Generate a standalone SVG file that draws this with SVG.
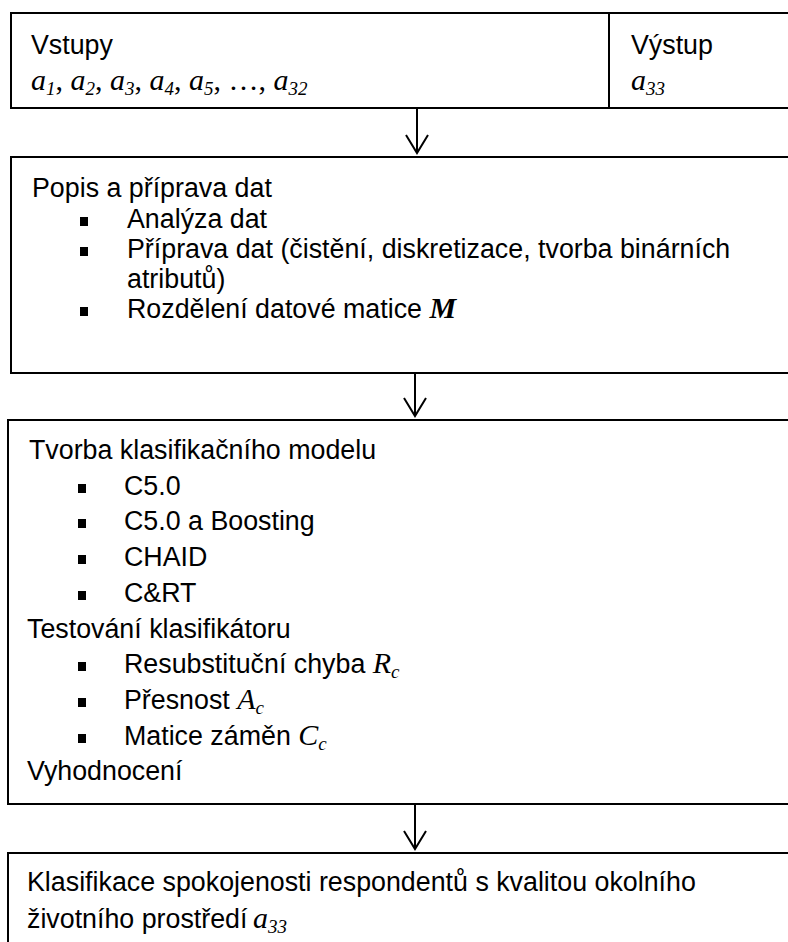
<svg xmlns="http://www.w3.org/2000/svg" width="788" height="942" viewBox="0 0 788 942">
<defs>
<style>
.box{fill:none;stroke:#000;stroke-width:2}
.t{font-family:"Liberation Sans",Arial,sans-serif;font-size:26.8px;fill:#000}
.m{font-family:"Liberation Serif","Times New Roman",serif;font-style:italic;font-size:30px;fill:#000}
.r{font-style:normal}
.b{font-weight:bold}
.sub{font-size:19px}
.bul{fill:#000}
.conn line,.conn polyline{stroke:#000;stroke-width:2;fill:none}
</style>
</defs>
<rect width="788" height="942" fill="#fff"/>

<g id="inputs-outputs">
<rect class="box" x="11" y="13" width="800" height="95"/>
<line class="box" x1="609" y1="13" x2="609" y2="108"/>
<text class="t" x="31" y="54">Vstupy</text>
<text class="m" x="31" y="90">a<tspan class="sub" dy="5">1</tspan><tspan class="r" dy="-5">, </tspan>a<tspan class="sub" dy="5">2</tspan><tspan class="r" dy="-5">, </tspan>a<tspan class="sub" dy="5">3</tspan><tspan class="r" dy="-5">, </tspan>a<tspan class="sub" dy="5">4</tspan><tspan class="r" dy="-5">, </tspan>a<tspan class="sub" dy="5">5</tspan><tspan class="r" dy="-5">, …, </tspan>a<tspan class="sub" dy="5">32</tspan></text>
<text class="t" x="631" y="54">Výstup</text>
<text class="m" x="631" y="90">a<tspan class="sub" dy="5">33</tspan></text>
</g>

<g id="preparation">
<rect class="box" x="11" y="157" width="800" height="216"/>
<text class="t" x="32" y="197">Popis a příprava dat</text>
<rect class="bul" x="80" y="217" width="8" height="9"/>
<text class="t" x="127" y="228">Analýza dat</text>
<rect class="bul" x="80" y="247" width="8" height="9"/>
<text class="t" x="127" y="258">Příprava dat (čistění, diskretizace, tvorba binárních</text>
<text class="t" x="127" y="288">atributů)</text>
<rect class="bul" x="80" y="307" width="8" height="9"/>
<text class="t" x="127" y="318">Rozdělení datové matice <tspan class="m b">M</tspan></text>
</g>

<g id="model">
<rect class="box" x="8" y="420" width="800" height="384"/>
<text class="t" x="29" y="459">Tvorba klasifikačního modelu</text>
<rect class="bul" x="78" y="484" width="8" height="9"/>
<text class="t" x="124" y="495">C5.0</text>
<rect class="bul" x="78" y="519" width="8" height="9"/>
<text class="t" x="124" y="530">C5.0 a Boosting</text>
<rect class="bul" x="78" y="555" width="8" height="9"/>
<text class="t" x="124" y="566">CHAID</text>
<rect class="bul" x="78" y="591" width="8" height="9"/>
<text class="t" x="124" y="602">C&amp;RT</text>
<text class="t" x="27" y="638">Testování klasifikátoru</text>
<rect class="bul" x="78" y="662" width="8" height="9"/>
<text class="t" x="124" y="673">Resubstituční chyba <tspan class="m">R<tspan class="sub" dy="5">c</tspan></tspan></text>
<rect class="bul" x="78" y="698" width="8" height="9"/>
<text class="t" x="124" y="709">Přesnost <tspan class="m">A<tspan class="sub" dy="5">c</tspan></tspan></text>
<rect class="bul" x="78" y="734" width="8" height="9"/>
<text class="t" x="124" y="745">Matice záměn <tspan class="m">C<tspan class="sub" dy="5">c</tspan></tspan></text>
<text class="t" x="27" y="780">Vyhodnocení</text>
</g>

<g id="classification">
<rect class="box" x="8" y="853" width="800" height="120"/>
<text class="t" x="27" y="891">Klasifikace spokojenosti respondentů s kvalitou okolního</text>
<text class="t" x="27" y="928">životního prostředí<tspan class="m" x="253">a<tspan class="sub" dy="5">33</tspan></tspan></text>
</g>

<g id="connectors" class="conn">
<line x1="417" y1="108" x2="417" y2="153"/>
<polyline points="406,135 417,153 428,135"/>
<line x1="415" y1="373" x2="415" y2="416"/>
<polyline points="404,398 415,416 426,398"/>
<line x1="415" y1="804" x2="415" y2="849"/>
<polyline points="404,831 415,849 426,831"/>
</g>
</svg>
